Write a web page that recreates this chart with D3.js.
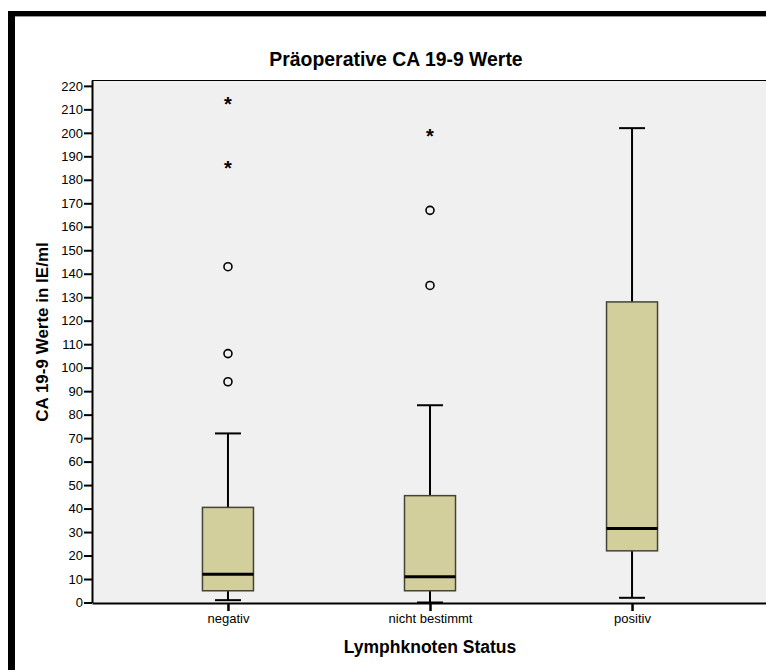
<!DOCTYPE html>
<html>
<head>
<meta charset="utf-8">
<script src="https://cdn.jsdelivr.net/npm/d3@7"></script>
<style>
  body { margin: 0; background: #fff; }
  svg { display: block; font-family: "Liberation Sans", Arial, sans-serif; }
</style>
</head>
<body>
<div class="chart"></div>
<script>
var categories = ['negativ', 'nicht bestimmt', 'positiv'];
var whiskerLow = [1, 0, 2];
var quartile1 = [5, 5, 22];
var medians = [12, 11, 31.5];
var quartile3 = [40.5, 45.5, 128];
var whiskerHigh = [72, 84, 202];
var outlierCircles = [[94, 106, 143], [135, 167], []];
var outlierStars = [[186, 213], [199.5], []];
var yTicks = d3.range(0, 221, 10);

var width = 766, height = 670;
var svg = d3.select('.chart').append('svg')
    .attr('width', width)
    .attr('height', height);

// outer frame
svg.append('rect').attr('x', 8).attr('y', 11).attr('width', width).attr('height', height).attr('fill', '#000');
svg.append('rect').attr('x', 15).attr('y', 16).attr('width', width).attr('height', height).attr('fill', '#fff');
svg.append('line').attr('x1', 15).attr('x2', width).attr('y1', 16.5).attr('y2', 16.5)
    .attr('stroke', '#999').attr('stroke-width', 1);

var plot = { left: 92, right: 768, top: 80, bottom: 603 };

var y = d3.scaleLinear().domain([0, 222.5]).range([plot.bottom - 0.5, plot.top]);
var x = d3.scalePoint().domain(categories).range([plot.left, plot.right]).padding(0.673);

svg.append('rect')
    .attr('x', plot.left).attr('y', plot.top)
    .attr('width', plot.right - plot.left).attr('height', plot.bottom - plot.top)
    .attr('fill', '#f0f0f0');
svg.append('line')
    .attr('x1', plot.left).attr('x2', plot.right)
    .attr('y1', plot.top + 0.5).attr('y2', plot.top + 0.5)
    .attr('stroke', '#000').attr('stroke-width', 1);

// y axis
var yAxis = svg.append('g')
    .attr('transform', 'translate(' + plot.left + ',0)')
    .call(d3.axisLeft(y).tickValues(yTicks).tickSize(8).tickPadding(1).tickSizeOuter(0));
yAxis.select('.domain').attr('stroke-width', 2);
yAxis.selectAll('.tick line').attr('stroke-width', 2);
yAxis.selectAll('.tick text').attr('font-size', 13).attr('fill', '#000')
    .attr('font-family', '"Liberation Sans", Arial, sans-serif');

// x axis
var xAxis = svg.append('g')
    .attr('transform', 'translate(0,' + plot.bottom + ')')
    .call(d3.axisBottom(x).tickSize(8).tickPadding(3).tickSizeOuter(0));
xAxis.select('.domain').attr('stroke-width', 2);
xAxis.selectAll('.tick line').attr('stroke-width', 2.5);
xAxis.selectAll('.tick text').attr('font-size', 13).attr('fill', '#000')
    .attr('font-family', '"Liberation Sans", Arial, sans-serif');

var boxWidth = 51, capWidth = 26;
var data = categories.map(function (c, i) {
    return { cat: c, lo: whiskerLow[i], q1: quartile1[i], med: medians[i], q3: quartile3[i], hi: whiskerHigh[i],
        circles: outlierCircles[i], stars: outlierStars[i] };
});

var groups = svg.selectAll('.box').data(data).enter().append('g')
    .attr('class', 'box')
    .attr('transform', function (d) { return 'translate(' + x(d.cat) + ',0)'; });

// whiskers
groups.append('line')
    .attr('x1', 0).attr('x2', 0)
    .attr('y1', function (d) { return y(d.hi); })
    .attr('y2', function (d) { return y(d.lo); })
    .attr('stroke', '#000').attr('stroke-width', 2);
groups.selectAll('.cap').data(function (d) { return [d.lo, d.hi]; }).enter().append('line')
    .attr('class', 'cap')
    .attr('x1', -capWidth / 2).attr('x2', capWidth / 2)
    .attr('y1', function (v) { return y(v); })
    .attr('y2', function (v) { return y(v); })
    .attr('stroke', '#000').attr('stroke-width', 2);

// boxes
groups.append('rect')
    .attr('x', -boxWidth / 2)
    .attr('y', function (d) { return y(d.q3); })
    .attr('width', boxWidth)
    .attr('height', function (d) { return y(d.q1) - y(d.q3); })
    .attr('fill', '#d3cf9c')
    .attr('stroke', '#444436').attr('stroke-width', 1.5);
groups.append('line')
    .attr('x1', -boxWidth / 2).attr('x2', boxWidth / 2)
    .attr('y1', function (d) { return y(d.med); })
    .attr('y2', function (d) { return y(d.med); })
    .attr('stroke', '#000').attr('stroke-width', 3);

// outliers
groups.selectAll('.outlier').data(function (d) { return d.circles; }).enter().append('circle')
    .attr('class', 'outlier')
    .attr('cx', 0)
    .attr('cy', function (v) { return y(v); })
    .attr('r', 4)
    .attr('fill', 'none').attr('stroke', '#000').attr('stroke-width', 1.6);
groups.selectAll('.extreme').data(function (d) { return d.stars; }).enter().append('text')
    .attr('class', 'extreme')
    .attr('x', 0)
    .attr('y', function (v) { return y(v) + 9; })
    .attr('text-anchor', 'middle')
    .attr('font-size', 20)
    .attr('font-weight', 'bold')
    .text('*');

// titles
svg.append('text')
    .attr('x', 396).attr('y', 66)
    .attr('text-anchor', 'middle')
    .attr('font-size', 19.4).attr('font-weight', 'bold')
    .text('Präoperative CA 19-9 Werte');
svg.append('text')
    .attr('transform', 'translate(48,332) rotate(-90)')
    .attr('text-anchor', 'middle')
    .attr('font-size', 17).attr('font-weight', 'bold')
    .text('CA 19-9 Werte in IE/ml');
svg.append('text')
    .attr('x', x('nicht bestimmt')).attr('y', 653)
    .attr('text-anchor', 'middle')
    .attr('font-size', 17.5).attr('font-weight', 'bold')
    .text('Lymphknoten Status');
</script>
</body>
</html>
